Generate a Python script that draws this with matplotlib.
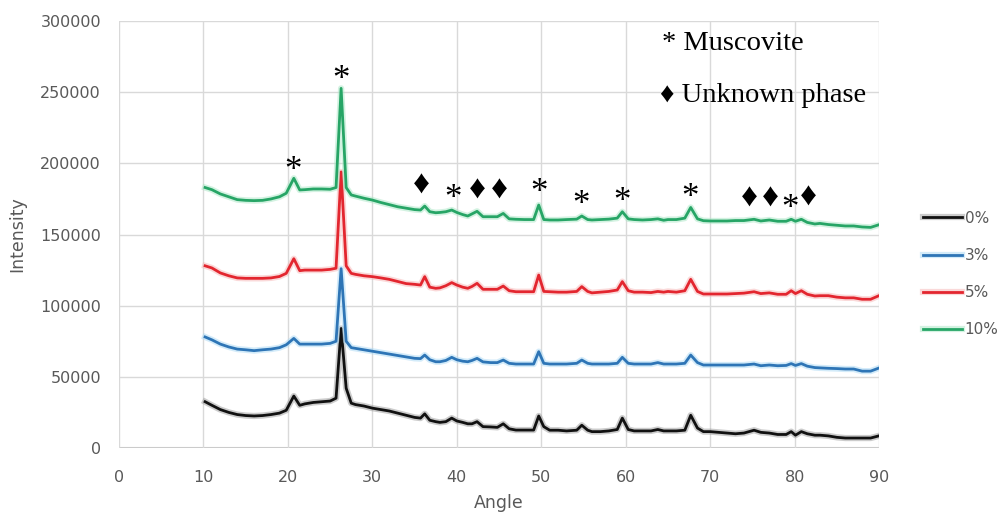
import matplotlib
matplotlib.use("Agg")
import matplotlib.pyplot as plt
import matplotlib.patheffects as pe

# XRD patterns, intensity in thousands of counts
angle = [10.2, 11, 12, 13, 14, 15, 16, 17, 18, 19, 19.8, 20.7, 21.4, 22, 23, 24, 25, 25.7,
         26.3, 26.9, 27.5, 28, 29, 30, 31, 32, 33, 34, 35, 35.7, 36.2, 36.8, 37.5, 38, 38.7,
         39.4, 40, 40.7, 41.3, 41.8, 42.4, 43.1, 44, 44.8, 45.5, 46.2, 47, 48, 49.1, 49.7,
         50.3, 51, 52, 53, 54.2, 54.8, 55.5, 56, 57, 58, 59, 59.6, 60.3, 61, 62, 63, 63.8,
         64.5, 65, 66, 67, 67.7, 68.5, 69.2, 70, 71, 72, 73, 74, 75.2, 76, 77, 78, 79, 79.6,
         80.1, 80.8, 81.5, 82.4, 83, 84, 85, 86, 87, 88, 89, 89.9]

i_0 = [32.5, 30, 27, 25, 23.5, 22.8, 22.5, 22.8, 23.5, 24.5, 26.5, 36.5, 30, 31, 32, 32.5, 33, 35,
       84, 42, 31.5, 30.5, 29.5, 28, 27, 26, 24.5, 23, 21.5, 21, 24, 19.5, 18.5, 18, 18.5,
       21, 19, 18, 17, 17, 18.5, 15, 14.8, 14.5, 17, 13.5, 12.6, 12.6, 12.6, 22.5,
       15, 12.5, 12.5, 12, 12.5, 16, 12.5, 11.5, 11.5, 12, 13, 21, 13, 12, 12, 12, 13,
       12, 12, 12, 12.5, 23, 14, 11.5, 11.5, 11, 10.5, 10, 10.5, 12.5, 11, 10.5, 9.5, 9.5, 11.5,
       9, 11.5, 10, 9, 9, 8.5, 7.5, 7, 7, 7, 7, 8.4]

i_3 = [78, 76, 73, 71, 69.5, 69, 68.4, 69, 69.5, 70.5, 72.5, 77, 73, 73, 73, 73, 73.5, 75,
       126, 75, 70.5, 70, 69, 68, 67, 66, 65, 64, 63, 62.8, 65.3, 62, 60.6, 60.6, 61.5,
       63.7, 62, 61, 60.6, 61.5, 63, 60.5, 60, 60, 61.8, 59.5, 59, 59, 59, 67.7,
       59.5, 59, 59, 59, 59.5, 61.8, 59.5, 59, 59, 59, 59.5, 63.7, 59.5, 59, 59, 59, 60,
       59, 59, 59, 59.5, 65.3, 60, 58.3, 58.3, 58.3, 58.3, 58.3, 58.3, 59, 57.8, 58.3, 57.8, 58, 59.3,
       58, 59.3, 57.5, 56.5, 56.3, 56, 55.8, 55.5, 55.5, 54, 54, 56]

i_5 = [128, 126.5, 123, 121, 119.5, 119.2, 119.2, 119.2, 119.5, 120.5, 122.7, 133, 124.6, 125, 125, 125, 125.5, 126.3,
       194, 128, 122.7, 122, 121, 120.4, 119.5, 118.5, 117, 115.5, 115, 114.5, 120.4, 113, 112.2, 112.5, 114,
       116.2, 114.5, 113, 112.2, 113.5, 115.7, 111.5, 111.5, 111.5, 113.8, 110.5, 109.8, 109.8, 109.8, 121.5,
       110, 109.8, 109.5, 109.5, 110, 113.4, 110, 109, 109.5, 110, 111, 116.9, 110.5, 109.5, 109.5, 109.2, 110,
       109.5, 110, 109.5, 110.5, 118.5, 110, 108.2, 108.2, 108.2, 108.2, 108.5, 108.8, 109.8, 108.5, 109, 108, 108, 110.5,
       108.5, 110.5, 108, 106.8, 107, 107, 106, 105.5, 105.5, 104.5, 104.5, 106.8]

i_10 = [183, 181.5, 178.5, 176.5, 174.5, 174, 173.8, 174, 175, 176.5, 179, 189.5, 181.3, 181.5, 182, 182, 181.8, 183,
        252.7, 183, 177.8, 177, 175.5, 174.2, 172.5, 171, 169.5, 168.5, 167.5, 167.2, 170, 166, 165.3, 165.5, 166,
        167.2, 165.5, 164, 163, 164.5, 166.3, 162.5, 162.5, 162.5, 164.8, 161, 160.7, 160.5, 160.5, 170.7,
        160.5, 160.2, 160.2, 160.5, 160.8, 163, 160.5, 160.2, 160.5, 160.8, 161.5, 166, 161, 160.5, 160.2, 160.5, 161,
        160, 160.5, 160.5, 161.5, 169, 161, 159.7, 159.5, 159.5, 159.5, 159.8, 159.8, 160.7, 159.5, 160.2, 159.3, 159.3, 160.7,
        159.3, 160.7, 158.5, 157.4, 157.8, 157, 156.5, 156, 156, 155.3, 155, 156.7]

labels = ["0%", "3%", "5%", "10%"]
colors = ["#111111", "#2e75b6", "#e3262f", "#27a566"]
halos = ["#9a9a9a", "#a9d8f5", "#f6b4b4", "#a8e6c4"]

# peak labels: (angle, intensity in thousands)
musc_x = [20.65, 26.3, 39.5, 49.7, 54.7, 59.6, 67.6, 79.5]
musc_y = [201, 264.4, 181, 185.5, 176.6, 179, 181.8, 173.8]
unk_x = [35.85, 42.4, 45.1, 74.7, 77.1, 81.6]
unk_y = [184.8, 180.8, 180.8, 175.4, 175.4, 176.1]

fig = plt.figure(figsize=(10.06, 5.19), dpi=100)
ax = fig.add_axes([0.1183, 0.1368, 0.7555, 0.8227])

for ys, lab, c, h in zip([i_0, i_3, i_5, i_10], labels, colors, halos):
    ax.plot(angle, [v * 1000 for v in ys], color=c, lw=2.0, label=lab,
            path_effects=[pe.Stroke(linewidth=4.5, foreground=h, alpha=0.5), pe.Normal()])

serif = ["Liberation Serif", "DejaVu Serif"]
for x, y in zip(musc_x, musc_y):
    ax.text(x, y * 1000 - 6500, "*", fontsize=25, family=serif, ha="center", va="center")
for x, y in zip(unk_x, unk_y):
    ax.text(x, y * 1000, "\u2666", fontsize=24, family=serif, ha="center", va="center")

ax.text(64.3, 284000, "* Muscovite", fontsize=20.5, family=serif, va="center")
ax.text(64.1, 247500, "\u2666 Unknown phase", fontsize=20.5, family=serif, va="center")

ax.set_xlim(0, 90)
ax.set_ylim(0, 300000)
ax.set_xticks(range(0, 91, 10))
ax.set_yticks(range(0, 300001, 50000))
ax.grid(True, color="#d9d9d9", lw=1)
ax.set_axisbelow(True)
for s in ax.spines.values():
    s.set_visible(False)
ax.axhline(0, color="#c8c8c8", lw=1.5, zorder=0.5)
ax.tick_params(length=0, labelsize=11.5, labelcolor="#595959")
ax.tick_params(axis="y", pad=13)
ax.tick_params(axis="x", pad=16)
ax.set_xlabel("Angle", fontsize=12.5, color="#595959", labelpad=6)
ax.set_ylabel("Intensity", fontsize=12.5, color="#595959", labelpad=10)

leg = ax.legend(loc="upper left", bbox_to_anchor=(909 / 1006, 1 - 197 / 519),
                bbox_transform=fig.transFigure, frameon=False, fontsize=11,
                handlelength=2.6, handletextpad=0.15, labelspacing=1.45)
for t in leg.get_texts():
    t.set_color("#595959")

fig.savefig("out.png", dpi=100)
